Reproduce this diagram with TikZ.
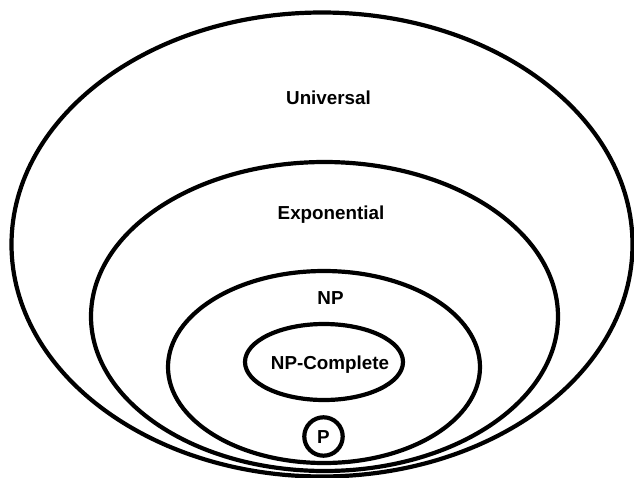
\documentclass[tikz,border=0pt]{standalone}
\usepackage{fontspec}
\setmainfont{Liberation Sans}
\usetikzlibrary{positioning}

\begin{document}
\begin{tikzpicture}[x=0.5pt, y=-0.5pt, line width=2.1pt,
    cls/.style={font=\fontsize{9.4}{11}\selectfont\bfseries, inner sep=0pt}]
  \useasboundingbox (0,0) rectangle (634,478);

  % nested classes, outermost first
  \draw (322,244.5) ellipse [x radius=155.25pt, y radius=116pt];
  \draw (324.5,316.5) ellipse [x radius=116.75pt, y radius=77.25pt];
  \draw (324,367) ellipse [x radius=78pt, y radius=48pt];
  \draw (324,362) ellipse [x radius=39.5pt, y radius=19pt];
  \draw (323.5,436.5) circle [radius=9.6pt];

  % labels
  \node[cls] (univ) at (328.5,98) {Universal};
  \node[cls] (expo) at (331,214.5) {Exponential};
  \node[cls] (np) at (330.5,298) {NP};
  \node[cls] (npc) at (330,365) {NP-Complete};
  \node[cls] (p) at (323.5,437) {P};
\end{tikzpicture}
\end{document}
